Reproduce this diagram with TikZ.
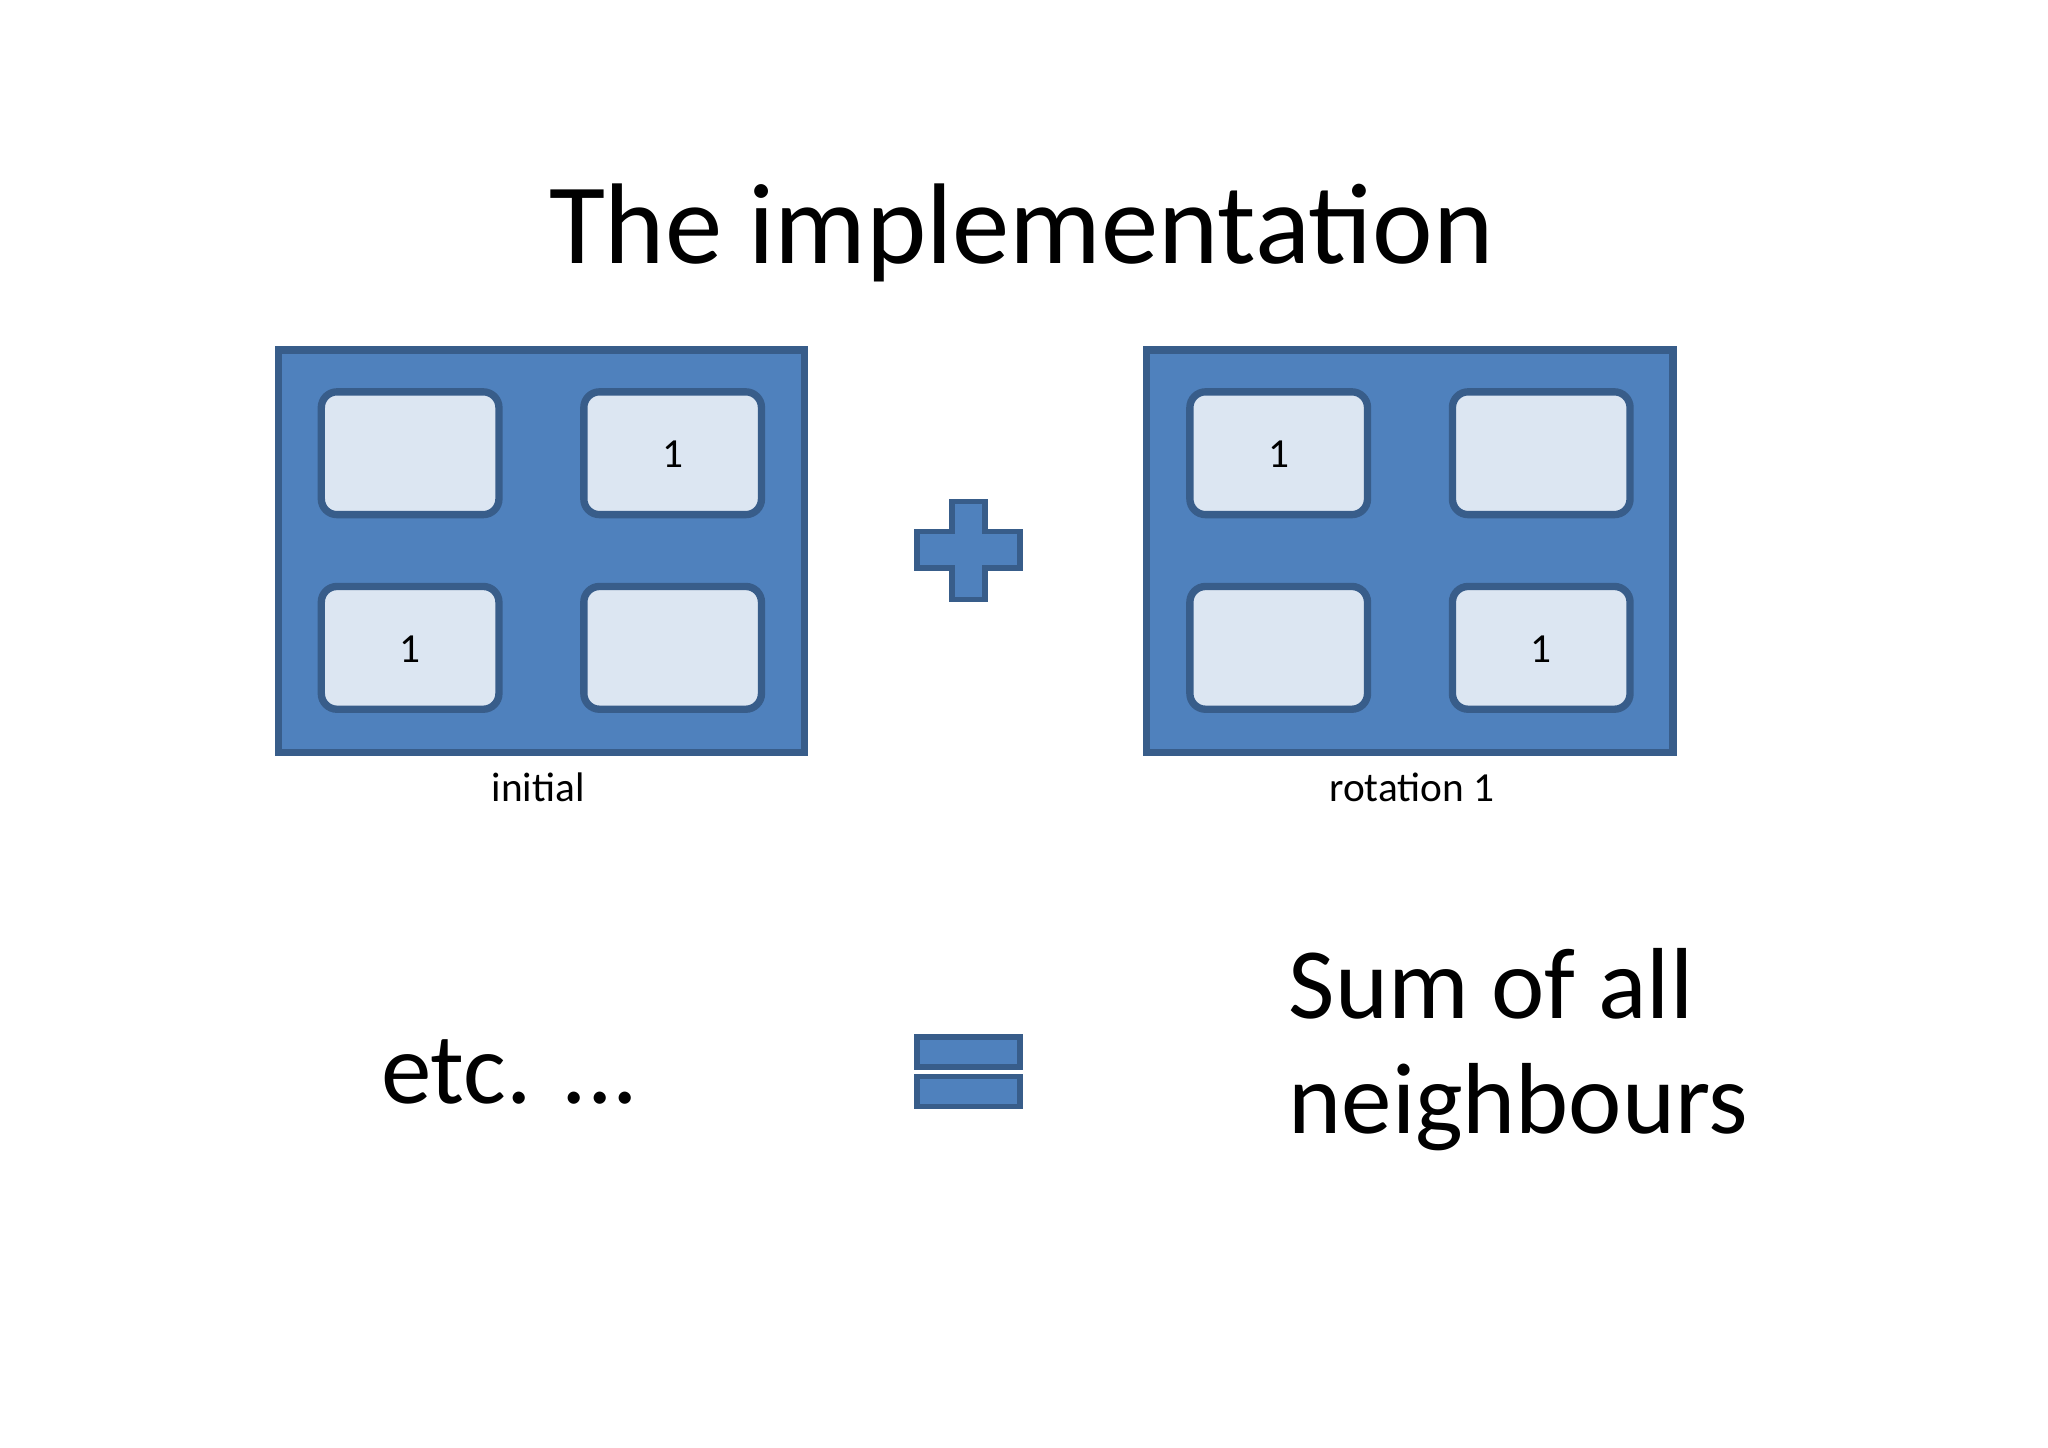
\documentclass[tikz,border=0pt]{standalone}
\usepackage{fontspec}
\setmainfont{Carlito}
\usetikzlibrary{positioning}
\definecolor{boardblue}{HTML}{4F81BD}
\definecolor{boardedge}{HTML}{385D8A}
\definecolor{cellfill}{HTML}{DCE6F2}
\newcommand{\boardcell}[3]{
    \draw[boardedge, line width=1.6pt, fill=cellfill, rounded corners=0.12cm] (#1, #2) rectangle ++(1.36, -0.94);
    \node at (#1 + 0.68, #2 - 0.48) {\fontsize{9pt}{11pt}\selectfont #3};
}
\tikzset{
    board/.style={draw=boardedge, line width=1.6pt, fill=boardblue},
    bigtext/.style={font=\fontsize{22pt}{27pt}\selectfont, inner sep=0pt},
    caption/.style={font=\fontsize{9pt}{11pt}\selectfont}
}
\begin{document}
\begin{tikzpicture}
    \useasboundingbox (0, 0) rectangle (15.68, -11.08);
    \node[font=\fontsize{25pt}{30pt}\selectfont] (title) at (7.82, -1.78) {The implementation};
    % left board
    \draw[board] (2.13, -2.68) rectangle (6.16, -5.76);
    \boardcell{2.46}{-3.00}{}
    \boardcell{4.47}{-3.00}{1}
    \boardcell{2.46}{-4.49}{1}
    \boardcell{4.47}{-4.49}{}
    \node[caption] (initial) at (4.12, -6.03) {initial};
    % right board
    \draw[board] (8.78, -2.68) rectangle (12.81, -5.76);
    \boardcell{9.11}{-3.00}{1}
    \boardcell{11.12}{-3.00}{}
    \boardcell{9.11}{-4.49}{}
    \boardcell{11.12}{-4.49}{1}
    \node[caption] (rotation) at (10.81, -6.03) {rotation 1};
    % plus and equals
    \draw[board, line width=1.2pt] (7.29, -3.84) -- (7.54, -3.84) -- (7.54, -4.07) -- (7.81, -4.07)
        -- (7.81, -4.35) -- (7.54, -4.35) -- (7.54, -4.59) -- (7.29, -4.59) -- (7.29, -4.35)
        -- (7.02, -4.35) -- (7.02, -4.07) -- (7.29, -4.07) -- cycle;
    \draw[board, line width=1.2pt] (7.02, -7.94) rectangle (7.81, -8.17);
    \draw[board, line width=1.2pt] (7.02, -8.24) rectangle (7.81, -8.47);
    % texts
    \node[bigtext, anchor=base west] (etc) at (2.91, -8.45) {etc. ...};
    \node[bigtext, anchor=base west] (sum) at (9.86, -7.80) {Sum of all};
    \node[bigtext, anchor=base west] (neigh) at (9.86, -8.68) {neighbours};
\end{tikzpicture}
\end{document}
